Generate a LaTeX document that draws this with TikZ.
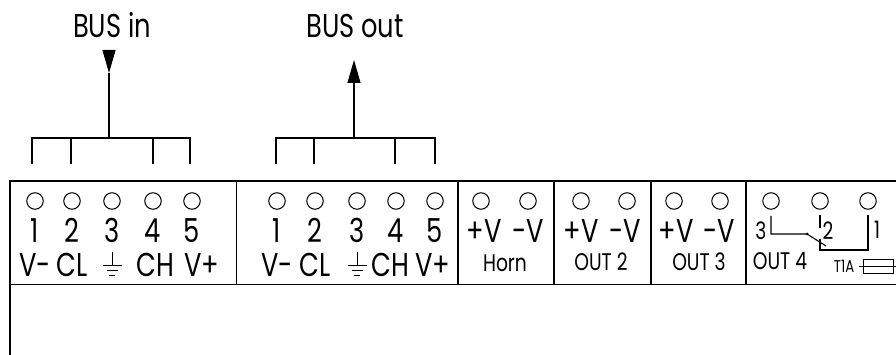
\documentclass[tikz,border=0pt]{standalone}
\usepackage{fontspec}
\setmainfont[FakeStretch=0.78]{Poppins}
\usetikzlibrary{arrows.meta, positioning}

\begin{document}
\begin{tikzpicture}
	[
	x=1pt,
	y=-1pt,
	node distance=13pt,
	pin/.style={
		circle,
		draw,
		line width=1pt,
		inner sep=0pt,
		minimum size=16.5pt
	},
	bigText/.style={
		inner sep=0pt,
		text height=20pt,
		text depth=0pt,
		font=\fontsize{33}{33}\selectfont
	},
	midText/.style={
		inner sep=0pt,
		font=\fontsize{24}{24}\selectfont
	},
	smallText/.style={
		inner sep=0pt,
		font=\fontsize{17}{17}\selectfont
	},
	wall/.style={
		line width=1.2pt
	},
	edgeLine/.style={
		line width=1.6pt
	},
	busWire/.style={
		line width=1.1pt
	},
	busArrow/.style={
		line width=1.1pt,
		-{Triangle[length=23pt,width=13pt]}
	},
	earth/.pic={
		\draw[line width=1pt] (0,-13) -- (0,0);
		\draw[line width=1pt] (-9.5,0) -- (9.5,0);
		\draw[line width=1pt] (-5.5,5) -- (5.5,5);
		\draw[line width=1pt] (-3,10) -- (3,10);
	}
	]
	\useasboundingbox (0,0) rectangle (896,355);

	% housing
	\draw[edgeLine] (896,181) -- (10,181) -- (10,355);
	\draw[edgeLine] (10,284.5) -- (896,284.5);
	\draw[wall] (236.5,181) -- (236.5,284.5);
	\draw[wall] (458,181) -- (458,284.5);
	\draw[wall] (554,181) -- (554,284.5);
	\draw[wall] (651,181) -- (651,284.5);
	\draw[wall] (746,181) -- (746,284.5);

	% terminals
	\node(inPinA) [pin] at (35,201) {};
	\node(inPinB) [pin] at (72,201) {};
	\node(inPinC) [pin] at (112,201) {};
	\node(inPinD) [pin] at (153,201) {};
	\node(inPinE) [pin] at (192,201) {};
	\node(outPinA) [pin] at (277,201) {};
	\node(outPinB) [pin] at (315,201) {};
	\node(outPinC) [pin] at (357,201) {};
	\node(outPinD) [pin] at (396,201) {};
	\node(outPinE) [pin] at (435,201) {};
	\node(hornPinA) [pin] at (481,201) {};
	\node(hornPinB) [pin] at (528,201) {};
	\node(outTwoPinA) [pin] at (581,201) {};
	\node(outTwoPinB) [pin] at (627,201) {};
	\node(outThreePinA) [pin] at (674,201) {};
	\node(outThreePinB) [pin] at (720,201) {};
	\node(relayPinC) [pin] at (771,201) {};
	\node(relayPinB) [pin] at (820,201) {};
	\node(relayPinA) [pin] at (868,201) {};

	% numbers
	\node(inNumA) [bigText, below=of inPinA] {1};
	\node(inNumB) [bigText, below=of inPinB] {2};
	\node(inNumC) [bigText, below=of inPinC] {3};
	\node(inNumD) [bigText, below=of inPinD] {4};
	\node(inNumE) [bigText, below=of inPinE] {5};
	\node(outNumA) [bigText, below=of outPinA] {1};
	\node(outNumB) [bigText, below=of outPinB] {2};
	\node(outNumC) [bigText, below=of outPinC] {3};
	\node(outNumD) [bigText, below=of outPinD] {4};
	\node(outNumE) [bigText, below=of outPinE] {5};

	% signals
	\node(inSigA) [bigText, below=of inNumA] {V-};
	\node(inSigB) [bigText, below=of inNumB] {CL};
	\node(inSigD) [bigText, below=of inNumD, xshift=2pt] {CH};
	\node(inSigE) [bigText, below=of inNumE, xshift=10pt] {V+};
	\node(outSigA) [bigText, below=of outNumA] {V-};
	\node(outSigB) [bigText, below=of outNumB] {CL};
	\node(outSigD) [bigText, below=of outNumD, xshift=-6pt] {CH};
	\node(outSigE) [bigText, below=of outNumE, xshift=-2pt] {V+};
	\pic at (112,265) {earth};
	\pic at (357,265) {earth};

	% outputs
	\node(hornPlus) [bigText] at (484,233) {+V};
	\node(hornMinus) [bigText] at (528,233) {-V};
	\node(outTwoPlus) [bigText] at (581,233) {+V};
	\node(outTwoMinus) [bigText] at (625,233) {-V};
	\node(outThreePlus) [bigText] at (676,233) {+V};
	\node(outThreeMinus) [bigText] at (719,233) {-V};
	\node(hornName) [midText] at (505,263) {Horn};
	\node(outTwoName) [midText] at (601,262) {OUT 2};
	\node(outThreeName) [midText] at (699,262) {OUT 3};
	\node(outFourName) [midText] at (780,261) {OUT 4};

	% relay
	\node(relayNumC) [midText] at (761,231) {3};
	\node(relayNumB) [midText] at (828,231) {2};
	\node(relayNumA) [midText] at (877,230) {1};
	\coordinate(pivot) at (807,234);
	\fill (pivot) circle (1.5pt);
	\draw[busWire] (771,216) |- (pivot) -- (826,246);
	\draw[busWire] (820,215) -- (820,228);
	\draw[busWire] (820,239) |- (868,250) -- (868,215);

	% fuse
	\node(fuseName) [smallText] at (844,266) {T1A};
	\node(fuseBody) [draw, line width=1pt, minimum width=30pt, minimum height=14pt, inner sep=0pt] at (878,266) {};
	\draw[line width=1pt] (859,266) -- (896,266);

	% bus in
	\node(busInName) [bigText] at (112,28) {BUS in};
	\coordinate(busInHub) at (109,138);
	\coordinate(busInTop) at (109,50);
	\coordinate(busInTip) at (109,73);
	\draw[busWire] (32,164) |- (190,138) -- (190,164);
	\draw[busWire] (71,138) -- (71,164);
	\draw[busWire] (153,138) -- (153,164);
	\draw[busWire] (busInHub) -- (busInTip);
	\draw[busArrow] (busInTop) -- (busInTip);

	% bus out
	\node(busOutName) [bigText] at (355,28) {BUS out};
	\coordinate(busOutHub) at (354,138);
	\coordinate(busOutTip) at (354,60);
	\draw[busWire] (276,164) |- (435,138) -- (435,164);
	\draw[busWire] (314,138) -- (314,164);
	\draw[busWire] (395,138) -- (395,164);
	\draw[busArrow] (busOutHub) -- (busOutTip);
\end{tikzpicture}
\end{document}
